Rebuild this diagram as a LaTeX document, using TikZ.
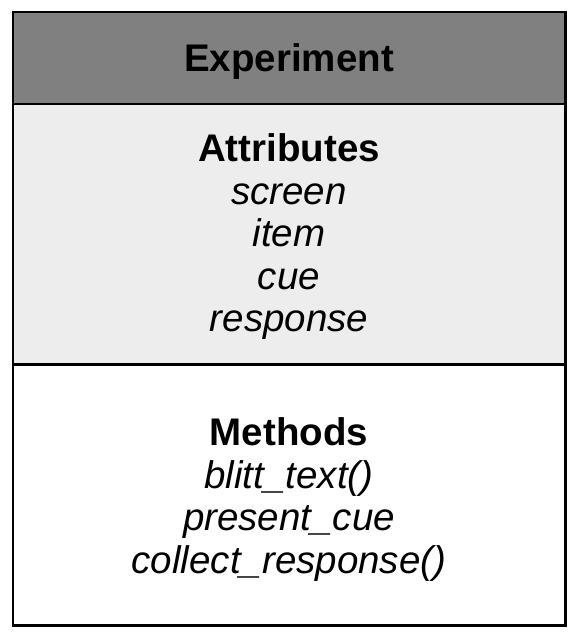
\documentclass[tikz,border=0pt]{standalone}
\usepackage{fontspec}
\setmainfont{Liberation Sans}
\begin{document}
\begin{tikzpicture}[x=1pt,y=-1pt,
  label/.style={anchor=base,inner sep=0pt,font=\fontsize{38.5}{44}\selectfont},
  title/.style={label,font=\fontsize{38.5}{44}\selectfont\bfseries},
  member/.style={label,font=\fontsize{38.5}{44}\selectfont\itshape},
  frame/.style={draw=black,line width=2.3pt}]
\useasboundingbox (0,0) rectangle (584,634);
% compartments
\fill[black!50] (13,12) rectangle (565.5,104);
\fill[black!7] (13,104) rectangle (565.5,364.5);
\fill[white] (13,364.5) rectangle (565.5,625.5);
\draw[frame] (13,104) -- (565.5,104);
\draw[frame] (13,364.5) -- (565.5,364.5);
\draw[frame] (13,12) rectangle (565.5,625.5);
% class name
\node[title] (name) at (289,71.5) {Experiment};
% attributes
\node[title]  (attr) at (289,161.5) {Attributes};
\node[member] (a1) at (289,204) {screen};
\node[member] (a2) at (289,246.5) {item};
\node[member] (a3) at (289,289) {cue};
\node[member] (a4) at (289,331.5) {response};
% methods
\node[title]  (meth) at (289,445) {Methods};
\node[member] (m1) at (289,488) {blitt\_text()};
\node[member] (m2) at (289,530.5) {present\_cue};
\node[member] (m3) at (289,573) {collect\_response()};
\end{tikzpicture}
\end{document}
